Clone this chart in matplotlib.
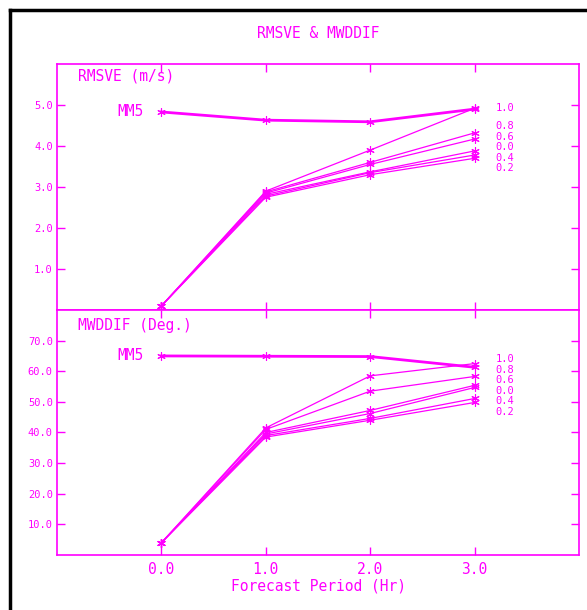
import matplotlib
matplotlib.use("Agg")
import matplotlib.pyplot as plt
from matplotlib.lines import Line2D

MAG = "#ff00ff"
FONT = "DejaVu Sans Mono"

hours = [0.0, 1.0, 2.0, 3.0]
labels = ["1.0", "0.8", "0.6", "0.0", "0.4", "0.2"]

# RMSVE (m/s)
rmsve_mm5 = [4.83, 4.63, 4.59, 4.90]
rmsve = [
    [0.1, 2.90, 3.90, 4.92],
    [0.1, 2.88, 3.60, 4.32],
    [0.1, 2.85, 3.55, 4.17],
    [0.1, 2.82, 3.37, 3.88],
    [0.1, 2.78, 3.35, 3.78],
    [0.1, 2.75, 3.30, 3.70],
]

# MWDDIF (Deg.)
mwddif_mm5 = [65.0, 64.9, 64.8, 61.3]
mwddif = [
    [4.0, 41.5, 58.5, 62.5],
    [4.0, 41.0, 53.5, 58.3],
    [4.0, 40.0, 47.2, 55.4],
    [4.0, 39.5, 46.2, 54.7],
    [4.0, 39.0, 44.6, 51.1],
    [4.0, 38.5, 44.0, 49.8],
]

fig = plt.figure(figsize=(5.87, 6.10), dpi=100)
ax1 = fig.add_axes([0.0971, 0.4918, 0.8893, 0.4033])
ax2 = fig.add_axes([0.0971, 0.0902, 0.8893, 0.4016])

star = (6, 2, 0)


def spread(ys, gap):
    # push label positions (pixels, top first) apart so they don't collide
    ys = list(ys)
    for _ in range(300):
        for i in range(len(ys) - 1):
            d = ys[i] - ys[i + 1]
            if d < gap:
                k = (gap - d) / 2
                ys[i] += k
                ys[i + 1] -= k
    return ys


def panel(ax, mm5, series, ylim, yticks, name, name_y):
    ax.plot(hours, mm5, color=MAG, lw=2.0, marker=star, ms=6, mew=0.8)
    for vals in series:
        ax.plot(hours, vals, color=MAG, lw=0.9, marker=star, ms=6, mew=0.8)
    ax.set_xlim(-1, 4)
    ax.set_ylim(*ylim)

    ends = [vals[-1] for vals in series]
    px = [ax.transData.transform((3.2, v))[1] for v in ends]
    px = spread(px, 10.5)
    inv = ax.transData.inverted()
    for lab, p in zip(labels, px):
        y = inv.transform((0, p))[1]
        ax.text(3.2, y, lab, color=MAG, fontsize=7.5, family=FONT,
                ha="left", va="center")

    ax.text(-0.17, mm5[0], "MM5", color=MAG, fontsize=10.5, family=FONT,
            ha="right", va="center")
    ax.text(0.04, name_y, name, color=MAG, fontsize=10.5, family=FONT,
            ha="left", va="center", transform=ax.transAxes)
    ax.set_xticks(hours)
    ax.set_yticks(yticks)
    ax.set_yticklabels(["%.1f" % v for v in yticks])
    ax.tick_params(direction="in", length=6, width=1, color=MAG,
                   top=True, right=True, labelcolor=MAG)
    ax.tick_params(axis="y", labelsize=7.5, pad=3)
    for lab in ax.get_yticklabels():
        lab.set_family(FONT)
    for s in ax.spines.values():
        s.set_color(MAG)
        s.set_linewidth(1.2)


panel(ax1, rmsve_mm5, rmsve, (0, 6), [1.0, 2.0, 3.0, 4.0, 5.0],
      "RMSVE (m/s)", 0.951)
panel(ax2, mwddif_mm5, mwddif, (0, 80), [10.0, 20.0, 30.0, 40.0, 50.0, 60.0, 70.0],
      "MWDDIF (Deg.)", 0.935)

ax1.tick_params(axis="x", labelbottom=False)
ax2.set_xticklabels(["%.1f" % h for h in hours])
ax2.tick_params(axis="x", labelsize=10.5, pad=5)
for lab in ax2.get_xticklabels():
    lab.set_family(FONT)
ax2.set_xlabel("Forecast Period (Hr)", color=MAG, fontsize=10.5, family=FONT,
               labelpad=1)

fig.text(318 / 587, 1 - 33 / 610, "RMSVE & MWDDIF", color=MAG, fontsize=10.5,
         family=FONT, ha="center", va="center")

# black frame at top and left
fig.add_artist(Line2D([10 / 587, 1.0], [1 - 10 / 610, 1 - 10 / 610],
                      color="black", lw=2.5, transform=fig.transFigure))
fig.add_artist(Line2D([10 / 587, 10 / 587], [0.0, 1 - 10 / 610],
                      color="black", lw=2.5, transform=fig.transFigure))

fig.savefig("out.png", dpi=100)
